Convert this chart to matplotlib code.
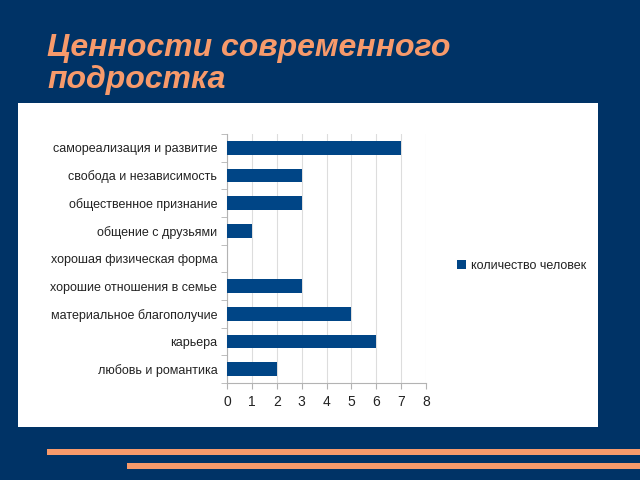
import matplotlib
matplotlib.use("Agg")
import matplotlib.pyplot as plt
from matplotlib.patches import Rectangle
import numpy as np

plt.rcParams['font.family'] = ['Liberation Sans', 'DejaVu Sans']

categories = ["любовь и романтика", "карьера", "материальное благополучие",
              "хорошие отношения в семье", "хорошая физическая форма",
              "общение с друзьями", "общественное признание",
              "свобода и независимость", "самореализация и развитие"]
values = [2, 6, 5, 3, 0, 1, 3, 3, 7]
series_name = "количество человек"
title = "Ценности современного\nподростка"

BG = '#003366'
ORANGE = '#F79A6B'
BAR = '#004586'

fig = plt.figure(figsize=(6.4, 4.8), dpi=100, facecolor=BG)
W, H = 640, 480

def rect(x0, y0, x1, y1, color, z=-5):
    fig.patches.append(Rectangle((x0 / W, 1 - y1 / H), (x1 - x0) / W, (y1 - y0) / H,
                                 transform=fig.transFigure, facecolor=color,
                                 edgecolor='none', zorder=z))

rect(18, 103, 598, 427, 'white')
rect(47, 449, 640, 455, ORANGE)
rect(127, 463, 640, 469, ORANGE)

fig.text(47 / W, 1 - 33 / H, title, color=ORANGE, fontsize=23, fontweight='bold',
         fontstyle='italic', va='top', ha='left', linespacing=1.1)

ax = fig.add_axes([227 / W, 1 - 383 / H, 199 / W, 249 / H])
ax.set_zorder(2)
ax.set_facecolor('white')
y = np.arange(len(categories))
ax.barh(y, values, height=0.5, color=BAR, label=series_name, zorder=3)
ax.set_xlim(0, 8)
ax.set_ylim(-0.5, len(categories) - 0.5)
ax.set_xticks(range(0, 9))
ax.set_yticks(y)
ax.set_yticklabels(categories, fontsize=9, color='#222222')
ax.set_yticks(np.arange(-0.5, len(categories), 1), minor=True)
ax.tick_params(axis='y', which='major', length=0, pad=7)
ax.tick_params(axis='y', which='minor', length=4, color='#b3b3b3', direction='out')
ax.tick_params(axis='x', length=4, color='#b3b3b3', labelsize=10, labelcolor='#222222', pad=5)
ax.grid(axis='x', color='#dddddd', linewidth=0.8, zorder=0)
for s in ['top', 'right']:
    ax.spines[s].set_visible(False)
for s in ['left', 'bottom']:
    ax.spines[s].set_color('#b3b3b3')
    ax.spines[s].set_linewidth(0.8)

fig.legend(loc='center left', bbox_to_anchor=(452 / W, 1 - 266 / H), frameon=False,
           fontsize=9, handlelength=0.7, handleheight=0.7, handletextpad=0.4,
           borderaxespad=0, labelcolor='#222222')

fig.savefig('out.png', dpi=100, facecolor=BG)
